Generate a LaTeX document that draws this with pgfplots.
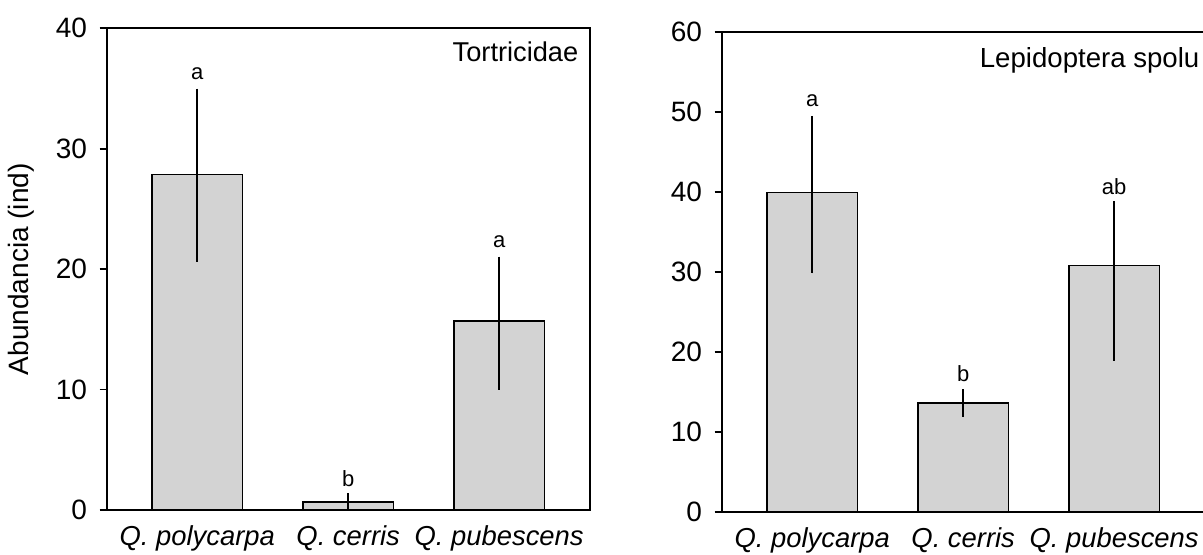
\documentclass[border=0pt]{standalone}
\usepackage{pgfplots}
\pgfplotsset{compat=1.18}
\usepackage{fontspec}
\setmainfont{Liberation Sans}
\definecolor{barfill}{RGB}{211,211,211}
\pgfplotsset{
  mybar/.style={
    scale only axis, width=241.5pt, anchor=south west,
    xmin=-0.6, xmax=2.6, ymin=0,
    xtick={0,1,2},
    xticklabels={\textit{Q. polycarpa},\textit{Q. cerris},\textit{Q. pubescens}},
    x tick style={draw=none},
    ytick pos=left, tick align=outside, major tick length=3.5pt,
    y tick style={line width=0.9pt, black},
    axis line style={line width=1pt},
    /pgf/number format/assume math mode=true,
    yticklabel style={font=\fontsize{14}{16}\selectfont, xshift=-2.8pt},
    xticklabel style={font=\fontsize{13.7}{16}\selectfont, yshift=-1pt},
    label style={font=\fontsize{14}{16}\selectfont},
    clip=false,
  },
  barstyle/.style={ybar, bar width=0.6, fill=barfill, draw=black, line width=0.8pt,
    error bars/.cd, y dir=both, y explicit, error mark=none,
    error bar style={line width=0.8pt, black}},
  letters/.style={draw=none, mark=none, nodes near coords, point meta=explicit symbolic,
    nodes near coords style={anchor=center, yshift=7.5pt, font=\fontsize{11}{13}\selectfont, text=black}},
}
\begin{document}
\begin{tikzpicture}
\useasboundingbox (0,0) rectangle (601.5pt,277pt);
\clip (0,0) rectangle (601.5pt,277pt);
\begin{axis}[mybar, at={(53.35pt,22pt)}, height=240.85pt, ymax=40, ytick={0,10,20,30,40},
  ylabel={Abundancia (ind)},
  ylabel style={at={(axis description cs:-0.177,0.5)}, anchor=center}]
\addplot[barstyle] coordinates {
 (0,27.87) += (0,7.12) -= (0,7.25)
 (1,0.68) += (0,0.71) -= (0,0.68)
 (2,15.70) += (0,5.34) -= (0,5.73)
};
\addplot[letters] coordinates {(0,34.99)[a] (1,1.39)[b] (2,21.04)[a]};
\node[anchor=east, font=\fontsize{13.6}{16}\selectfont, inner sep=0pt] at (rel axis cs:0.977,0.952) {Tortricidae};
\end{axis}
\begin{axis}[mybar, at={(360.85pt,21pt)}, height=240.15pt, ymax=60, ytick={0,10,20,30,40,50,60}]
\addplot[barstyle] coordinates {
 (0,39.9) += (0,9.6) -= (0,10.1)
 (1,13.6) += (0,1.76) -= (0,1.76)
 (2,30.8) += (0,8.0) -= (0,11.9)
};
\addplot[letters] coordinates {(0,49.5)[a] (1,15.36)[b] (2,38.8)[ab]};
\node[anchor=east, font=\fontsize{13.8}{16}\selectfont, inner sep=0pt] at (rel axis cs:0.9897,0.94) {Lepidoptera spolu};
\end{axis}
\end{tikzpicture}
\end{document}
